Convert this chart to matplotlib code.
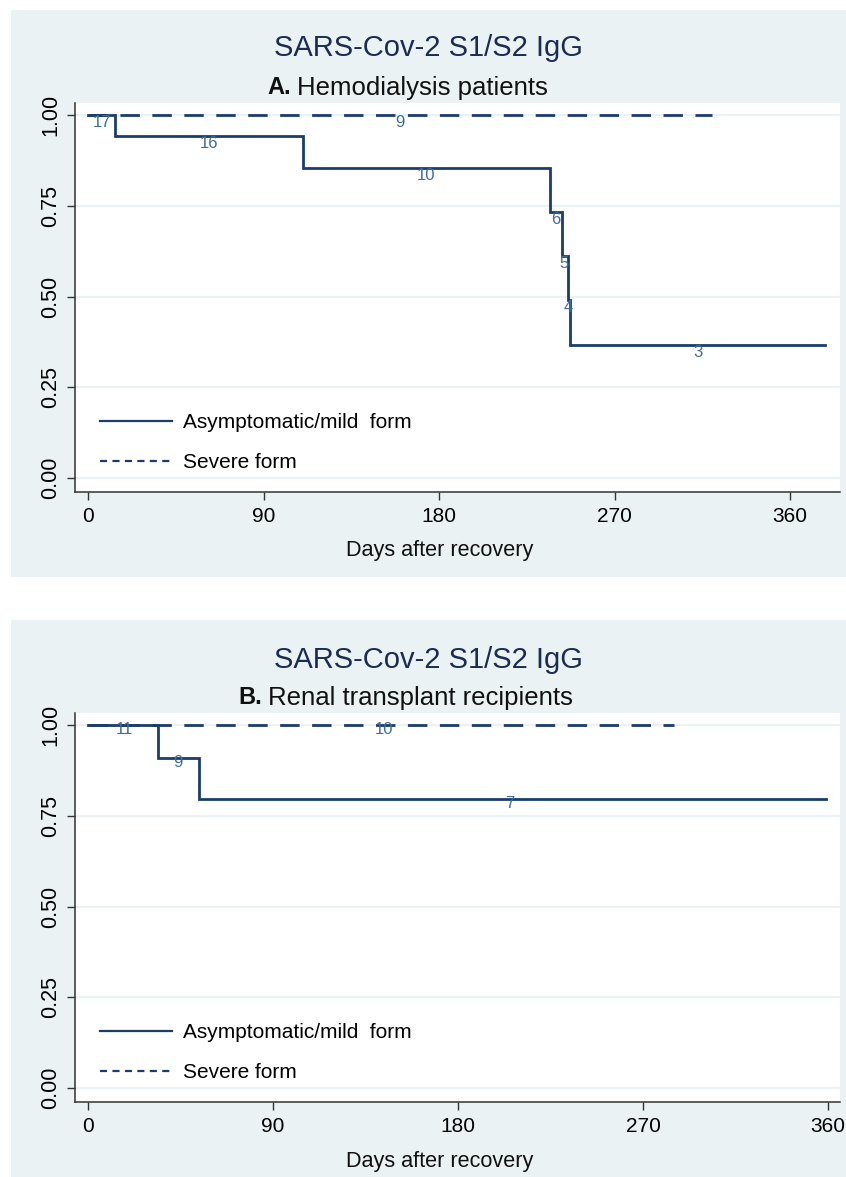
import matplotlib
matplotlib.use('Agg')
import matplotlib.pyplot as plt
from matplotlib.patches import Rectangle
from matplotlib.lines import Line2D

plt.rcParams['font.family'] = ['Liberation Sans', 'DejaVu Sans']

# ---------------- data ----------------
title = "SARS-Cov-2 S1/S2 IgG"
subtitles = [("A.", "Hemodialysis patients"), ("B.", "Renal transplant recipients")]
legend_labels = ["Asymptomatic/mild  form", "Severe form"]
xlabel = "Days after recovery"
x_ticks = [0, 90, 180, 270, 360]
y_ticks = [0.00, 0.25, 0.50, 0.75, 1.00]

# Panel A: hemodialysis
a_mild_days = [0, 14, 110, 237, 243, 246, 247, 378]
a_mild_surv = [1.0, 0.941, 0.854, 0.734, 0.612, 0.490, 0.368, 0.368]
a_severe_days = [0, 320]
a_severe_surv = [1.0, 1.0]
a_risk_text = ["17", "9", "16", "10", "6", "5", "4", "3"]
a_risk_days = [7, 160, 62, 173.5, 240, 244, 246.3, 312.5]
a_risk_surv = [1.0, 1.0, 0.941, 0.854, 0.734, 0.612, 0.490, 0.368]

# Panel B: renal transplant
b_mild_days = [0, 34, 54, 359]
b_mild_surv = [1.0, 0.909, 0.795, 0.795]
b_severe_days = [0, 285]
b_severe_surv = [1.0, 1.0]
b_risk_text = ["11", "10", "9", "7"]
b_risk_days = [17.5, 144, 44, 205]
b_risk_surv = [1.0, 1.0, 0.909, 0.795]

# ---------------- styling ----------------
W, H = 846, 1177
BG = '#eaf2f3'
LINE = '#1a3d6b'
RISK = '#3f6c9c'
TITLE_C = '#1c2b52'

fig = plt.figure(figsize=(W / 100, H / 100), dpi=100)
fig.patch.set_facecolor('white')

def fx(px):
    return px / W

def fy(py):
    return 1 - py / H

# panel backgrounds
fig.patches.append(Rectangle((fx(11), fy(577)), fx(846) - fx(11), fy(10) - fy(577),
                             transform=fig.transFigure, facecolor=BG, edgecolor='none', zorder=-10))
fig.patches.append(Rectangle((fx(11), fy(1177)), fx(846) - fx(11), fy(620) - fy(1177),
                             transform=fig.transFigure, facecolor=BG, edgecolor='none', zorder=-10))

panels = [
    dict(top=102.7, bottom=491.7, xlim=(-6.7, 385.6), title_y=48, sub_y=88, sub_split=291,
         mild=(a_mild_days, a_mild_surv), severe=(a_severe_days, a_severe_surv),
         risk=(a_risk_text, a_risk_days, a_risk_surv), risk_off=-7.5, xlabel_y=550),
    dict(top=712.7, bottom=1101.7, xlim=(-6.3, 365.8), title_y=660, sub_y=698, sub_split=262,
         mild=(b_mild_days, b_mild_surv), severe=(b_severe_days, b_severe_surv),
         risk=(b_risk_text, b_risk_days, b_risk_surv), risk_off=-4.5, xlabel_y=1161),
]

for i, p in enumerate(panels):
    left, right = 75, 840
    ax = fig.add_axes([fx(left), fy(p['bottom']), fx(right) - fx(left), fy(p['top']) - fy(p['bottom'])])
    ax.set_zorder(1)
    ax.set_facecolor('white')
    ax.set_xlim(*p['xlim'])
    ax.set_ylim(-0.0369, 1.0339)
    for s in ['top', 'right']:
        ax.spines[s].set_visible(False)
    for s in ['left', 'bottom']:
        ax.spines[s].set_color('#333333')
        ax.spines[s].set_linewidth(1.1)
    ax.set_yticks(y_ticks)
    ax.set_yticklabels([f"{v:.2f}" for v in y_ticks], rotation=90, va='center', fontsize=15.5)
    ax.set_xticks(x_ticks)
    ax.set_xticklabels([str(v) for v in x_ticks], fontsize=15)
    ax.tick_params(axis='both', direction='out', length=6, width=1.0, color='#333333')
    ax.tick_params(axis='y', pad=4)
    ax.tick_params(axis='x', pad=5)
    for v in y_ticks:
        ax.axhline(v, color=BG, lw=1.6, zorder=0)

    md, ms = p['mild']
    sd, ss = p['severe']
    ax.step(md, ms, where='post', color=LINE, lw=2.0, zorder=3, solid_joinstyle='miter')
    ax.plot(sd, ss, color=LINE, lw=2.0, dashes=(7, 4.5), zorder=3)

    txt, rd, rs = p['risk']
    for t, d, s in zip(txt, rd, rs):
        ax.annotate(t, (d, s), xytext=(0, p['risk_off'] * 0.72), textcoords='offset points',
                    ha='center', va='center', fontsize=12, color=RISK, zorder=4)

    handles = [Line2D([], [], color=LINE, lw=1.6),
               Line2D([], [], color=LINE, lw=1.6, dashes=(3.2, 2.4))]
    anchor_y = p['top'] + 310.5
    ax.legend(handles, legend_labels, loc='upper left',
              bbox_to_anchor=((100 - left) / (right - left), 1 - (anchor_y - p['top']) / (p['bottom'] - p['top'])),
              frameon=False, fontsize=15, handlelength=3.46, handletextpad=0.53,
              labelspacing=1.0, borderpad=0, borderaxespad=0)

    # titles
    fig.text(fx(428), fy(p['title_y']), title, ha='center', va='center', fontsize=21, color=TITLE_C)
    fig.text(fx(p['sub_split']), fy(p['sub_y']), subtitles[i][0], ha='right', va='center',
             fontsize=17, fontweight='bold', color='#111111')
    fig.text(fx(p['sub_split'] + 6), fy(p['sub_y']), subtitles[i][1], ha='left', va='center',
             fontsize=18.5, color='#111111')
    fig.text(fx(440), fy(p['xlabel_y']), xlabel, ha='center', va='center', fontsize=15.6, color='#111111')

fig.savefig('out.png', dpi=100, facecolor='white')
